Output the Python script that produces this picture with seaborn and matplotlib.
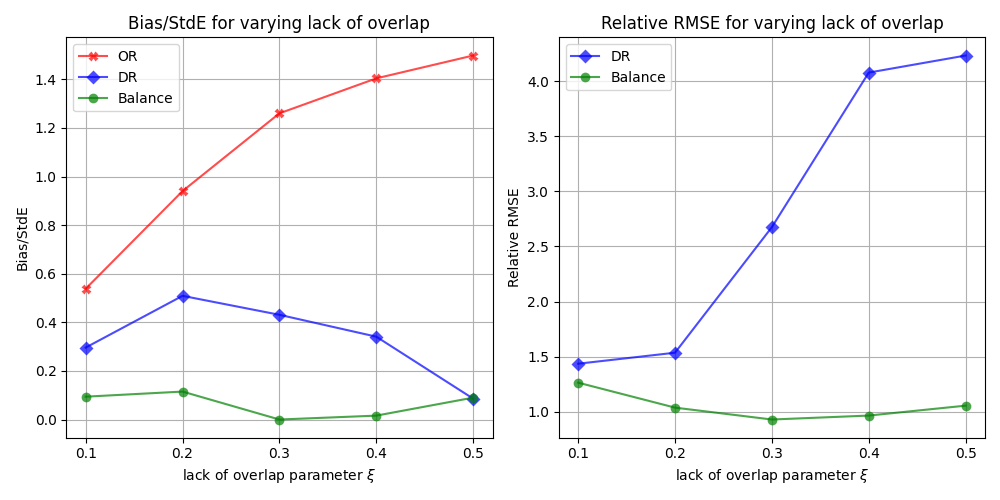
import pandas as pd
import matplotlib
matplotlib.use("Agg")
import matplotlib.pyplot as plt
import seaborn as sns

xi = [0.1, 0.2, 0.3, 0.4, 0.5]

# Bias/StdE
bias_or = [0.538, 0.94, 1.26, 1.404, 1.498]
bias_dr = [0.296, 0.509, 0.431, 0.341, 0.086]
bias_bal = [0.094, 0.115, 0.0, 0.016, 0.09]

# Relative RMSE
rmse_dr = [1.435, 1.535, 2.676, 4.08, 4.235]
rmse_bal = [1.263, 1.036, 0.928, 0.964, 1.054]

fig, axes = plt.subplots(1, 2, figsize=(10, 5), dpi=100)

ax = axes[0]
sns.lineplot(x=xi, y=bias_or, ax=ax, color="red", alpha=0.7, marker="X",
             markersize=7, markeredgecolor="none", label="OR")
sns.lineplot(x=xi, y=bias_dr, ax=ax, color="blue", alpha=0.7, marker="D",
             markersize=7, markeredgecolor="none", label="DR")
sns.lineplot(x=xi, y=bias_bal, ax=ax, color="green", alpha=0.7, marker="o",
             markersize=7, markeredgecolor="none", label="Balance")
ax.set_title("Bias/StdE for varying lack of overlap")
ax.set_xlabel(r"lack of overlap parameter $\xi$")
ax.set_ylabel("Bias/StdE")
ax.set_xticks(xi)
ax.grid(True, color="#b0b0b0", linewidth=0.8)
ax.legend(loc="upper left")

ax = axes[1]
sns.lineplot(x=xi, y=rmse_dr, ax=ax, color="blue", alpha=0.7, marker="D",
             markersize=7, markeredgecolor="none", label="DR")
sns.lineplot(x=xi, y=rmse_bal, ax=ax, color="green", alpha=0.7, marker="o",
             markersize=7, markeredgecolor="none", label="Balance")
ax.set_title("Relative RMSE for varying lack of overlap")
ax.set_xlabel(r"lack of overlap parameter $\xi$")
ax.set_ylabel("Relative RMSE")
ax.set_xticks(xi)
ax.grid(True, color="#b0b0b0", linewidth=0.8)
ax.legend(loc="upper left")

plt.tight_layout()
plt.savefig("out.png")
